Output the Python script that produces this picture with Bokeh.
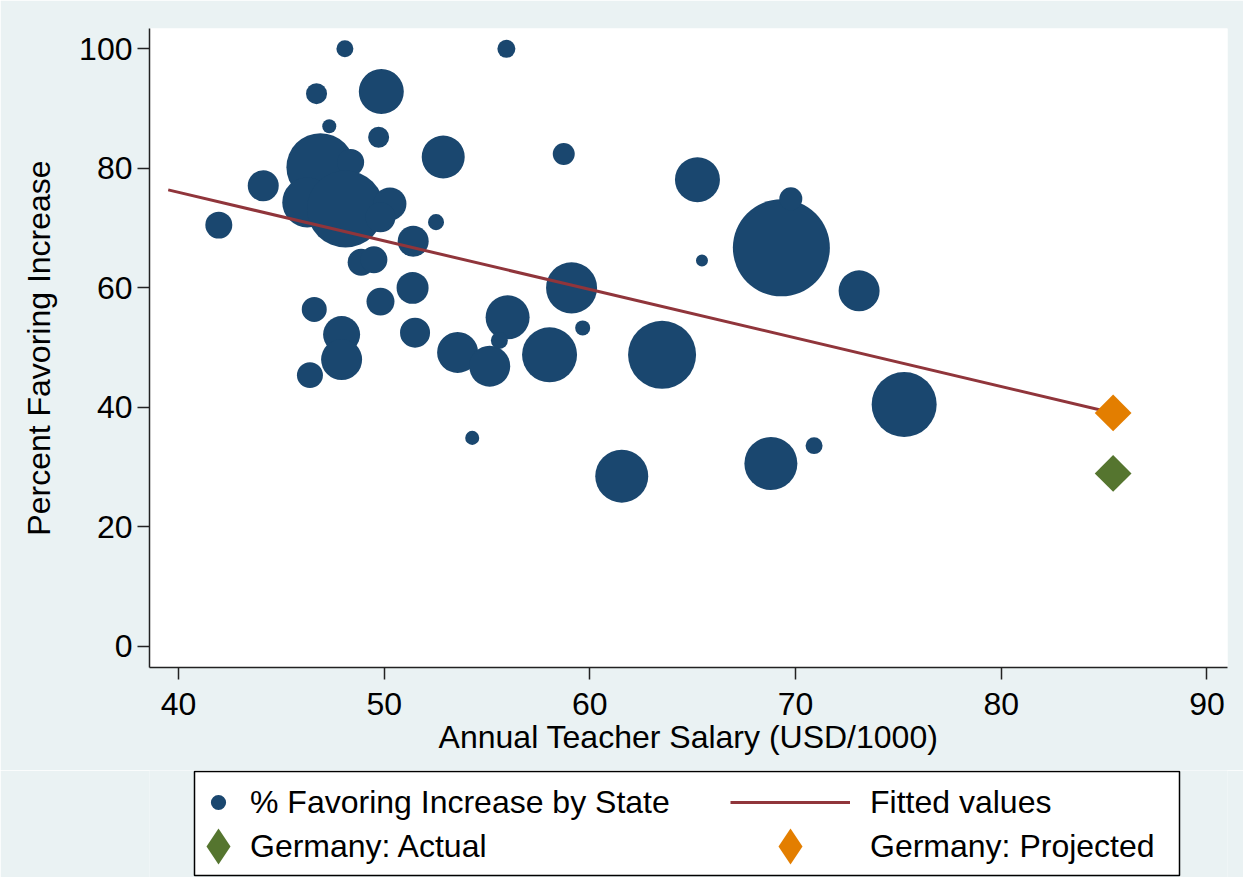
import numpy as np
from bokeh.plotting import figure
from bokeh.layouts import column
from bokeh.models import (ColumnDataSource, Range1d, FixedTicker, Legend,
                          LegendItem, BoxAnnotation)
from bokeh.core.properties import value
from bokeh.embed import file_html
from bokeh.resources import INLINE

# ---------------- data ----------------
salary = [48.09, 55.94, 49.86, 46.71, 47.33, 49.73, 52.87, 46.90, 48.37, 46.26,
          48.12, 50.28, 49.82, 44.12, 41.96, 52.52, 51.41, 48.88, 49.50, 51.38,
          49.82, 46.60, 56.00, 47.93, 47.93, 46.39, 51.50, 53.57, 55.13, 55.60,
          54.28, 58.04, 59.65, 59.11, 63.51, 61.55, 68.80, 70.90, 75.28, 73.09,
          69.31, 69.77, 65.45, 65.23, 58.73]
pct_favor = [100.0, 100.0, 92.85, 92.5, 87.05, 85.2, 81.9, 80.2, 81.0, 74.3,
             73.2, 74.05, 71.8, 77.1, 70.5, 71.0, 67.8, 64.3, 64.7, 60.0,
             57.7, 56.4, 55.07, 52.2, 48.0, 45.4, 52.5, 49.2, 46.9, 51.2,
             34.9, 48.8, 53.3, 60.0, 48.8, 28.5, 30.6, 33.6, 40.5, 59.5,
             66.7, 74.9, 64.6, 78.1, 82.4]
weight = [1.20, 1.35, 8.43, 1.84, 0.82, 1.84, 7.70, 19.25, 3.03, 10.41,
          24.68, 4.53, 3.75, 4.00, 3.03, 1.07, 4.00, 3.03, 3.03, 4.26,
          3.26, 2.60, 8.06, 5.70, 7.00, 2.81, 3.75, 7.00, 7.00, 1.20,
          0.82, 12.59, 0.94, 10.83, 19.25, 11.69, 11.69, 1.20, 17.59, 7.00,
          39.16, 2.20, 0.60, 8.43, 2.01]

fit_x = [39.5, 85.44]
fit_y = [76.4, 39.07]

germany_salary = [85.44]
germany_actual = [28.96]
germany_projected = [39.07]

x_ticks = [40, 50, 60, 70, 80, 90]
y_ticks = [0, 20, 40, 60, 80, 100]

labels = ["% Favoring Increase by State", "Fitted values",
          "Germany: Actual", "Germany: Projected"]

# ---------------- style ----------------
FONT = "Liberation Sans"
FS = "32px"
NAVY = "#1A476F"
MAROON = "#90353B"
GREEN = "#55752F"
ORANGE = "#E37E00"
BG = "#EAF2F3"

src = ColumnDataSource(dict(x=salary, y=pct_favor,
                            size=[15.5 * np.sqrt(w) for w in weight]))

# ---------------- main plot ----------------
p = figure(width=1243, height=770,
           x_range=Range1d(38.59, 91.0), y_range=Range1d(-3.52, 103.4),
           output_backend="svg", toolbar_location=None,
           min_border_left=149, min_border_right=16,
           min_border_top=28, min_border_bottom=103)
p.border_fill_color = BG
p.background_fill_color = "white"
p.outline_line_color = None
p.xgrid.visible = False
p.ygrid.visible = False

p.scatter("x", "y", size="size", source=src, fill_color=NAVY, line_color=None)
p.line(fit_x, fit_y, line_color=MAROON, line_width=3)
p.scatter(germany_salary, germany_actual, marker="square", angle=np.pi / 4,
          size=26, fill_color=GREEN, line_color=None)
p.scatter(germany_salary, germany_projected, marker="square", angle=np.pi / 4,
          size=26, fill_color=ORANGE, line_color=None)

for ax in (p.xaxis[0], p.yaxis[0]):
    ax.major_tick_out = 12
    ax.major_tick_in = 0
    ax.minor_tick_line_color = None
    ax.axis_line_width = 1.5
    ax.axis_line_color = "#222222"
    ax.major_tick_line_width = 1.5
    ax.major_tick_line_color = "#222222"
    ax.major_label_text_font = FONT
    ax.major_label_text_font_size = FS
    ax.major_label_text_color = "black"
    ax.axis_label_text_font = FONT
    ax.axis_label_text_font_size = FS
    ax.axis_label_text_font_style = "normal"
    ax.axis_label_text_color = "black"

p.xaxis.ticker = FixedTicker(ticks=x_ticks)
p.yaxis.ticker = FixedTicker(ticks=y_ticks)
p.xaxis.axis_label = "Annual Teacher Salary (USD/1000)"
p.yaxis.axis_label = "Percent Favoring Increase"
p.xaxis.major_label_standoff = 13
p.yaxis.major_label_standoff = 5
p.xaxis.axis_label_standoff = 1
p.yaxis.axis_label_standoff = 19

# ---------------- legend panel ----------------
lp = figure(width=1243, height=107, x_range=Range1d(0, 1), y_range=Range1d(0, 1),
            x_axis_type=None, y_axis_type=None,
            output_backend="svg", toolbar_location=None,
            min_border_left=149, min_border_right=16,
            min_border_top=0, min_border_bottom=0)
lp.border_fill_color = BG
lp.background_fill_color = BG
lp.outline_line_color = None

box = BoxAnnotation(left=45, right=1030, bottom=2, top=106,
                    left_units="screen", right_units="screen",
                    top_units="screen", bottom_units="screen",
                    fill_color="white", fill_alpha=1.0,
                    line_color="black", line_width=1.5, line_alpha=1.0)
lp.add_layout(box, "center")

# legend-key renderers (their data lie outside this panel's ranges)
k_states = lp.scatter("x", "y", source=src, size=10, fill_color=NAVY,
                      line_color=None)
k_fit = lp.line(fit_x, fit_y, line_color=MAROON, line_width=3)
k_act = lp.scatter(germany_salary, germany_actual, marker="diamond",
                   size=36, fill_color=GREEN, line_color=None)
k_proj = lp.scatter(germany_salary, germany_projected, marker="diamond",
                    size=36, fill_color=ORANGE, line_color=None)


def add_item(label, renderer, gw, gh, standoff, loc):
    lg = Legend(items=[LegendItem(label=value(label), renderers=[renderer])],
                location=loc, glyph_width=gw, glyph_height=gh,
                label_standoff=standoff, padding=0, margin=0, spacing=0,
                border_line_color=None, background_fill_alpha=0,
                label_text_font=FONT, label_text_font_size=FS,
                label_text_color="black")
    lp.add_layout(lg, "center")


add_item(labels[0], k_states, 38, 38, 13, (50, 56))
add_item(labels[1], k_fit, 120, 38, 20, (581, 56))
# Germany: Actual -> key drawn by one legend, text by another
add_item(" ", k_act, 90, 90, 0, (24, -14))
add_item(labels[2], k_act, 0, 38, 0, (101, 12))
add_item(labels[3], k_proj, 90, 90, 35, (596, -14))

open("out.html", "w").write(file_html(column(p, lp), INLINE))
